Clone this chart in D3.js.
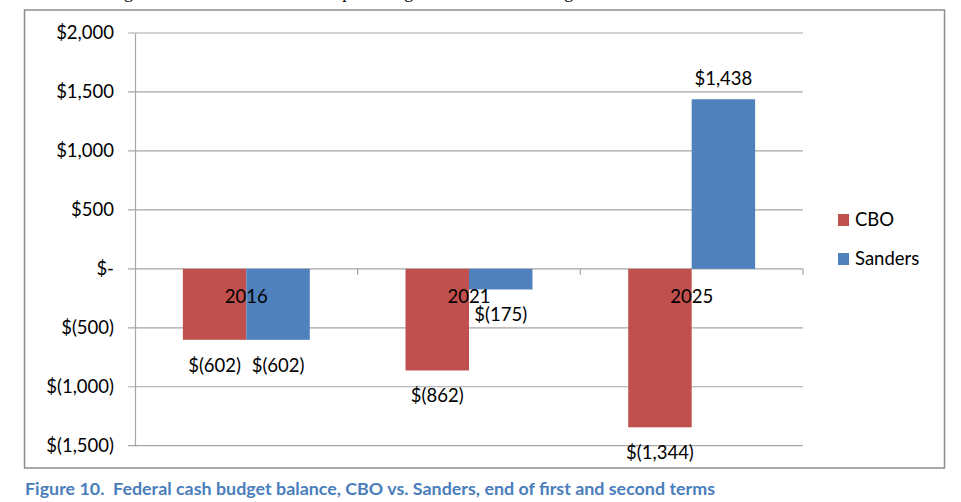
<!DOCTYPE html>
<html>
<head>
<meta charset="utf-8">
<script src="https://cdn.jsdelivr.net/npm/d3@7/dist/d3.min.js"></script>
<style>
  body { margin: 0; background: #fff; }
  text { font-family: Lato, "Open Sans", sans-serif; }
</style>
</head>
<body>
<div id="chart"></div>
<script>
// data
const years = ["2016", "2021", "2025"];
const seriesNames = ["CBO", "Sanders"];
const cboValues = [-602, -862, -1344];
const sandersValues = [-602, -175, 1438];
const yTicks = [-1500, -1000, -500, 0, 500, 1000, 1500, 2000];
const colors = { "CBO": "#c0504d", "Sanders": "#4f81bd" };

const width = 961, height = 502;
const plot = { left: 135, right: 803, top: 33, bottom: 445.7 };

const svg = d3.select("#chart")
  .append("svg")
  .attr("width", width)
  .attr("height", height);

// cut-off line of body text above the figure
svg.append("text")
  .attr("x", 30)
  .attr("y", -2)
  .attr("textLength", 673)
  .style("font-family", "'Liberation Serif', serif")
  .style("font-size", "18px")
  .text("economic growth reduces social spending while increasing tax revenues.");

// outer frame
svg.append("rect")
  .attr("x", 24.5).attr("y", 10)
  .attr("width", 920).attr("height", 458)
  .attr("fill", "none")
  .attr("stroke", "#8c8c8c")
  .attr("stroke-width", 1.5);

const x = d3.scaleBand()
  .domain(years)
  .range([plot.left, plot.right])
  .paddingInner(0.43)
  .paddingOuter(0.215);

const xs = d3.scaleBand()
  .domain(seriesNames)
  .range([0, x.bandwidth()]);

const y = d3.scaleLinear()
  .domain([-1500, 2000])
  .range([plot.bottom, plot.top]);

const fmt = v => {
  if (v === 0) return "$-";
  const s = d3.format(",")(Math.abs(v));
  return v < 0 ? "$(" + s + ")" : "$" + s;
};

// gridlines
svg.append("g")
  .selectAll("line")
  .data(yTicks)
  .join("line")
  .attr("x1", plot.left - 7)
  .attr("x2", plot.right)
  .attr("y1", d => y(d))
  .attr("y2", d => y(d))
  .attr("stroke", "#a6a6a6")
  .attr("stroke-width", 1.2);

// y axis
const yAxis = svg.append("g")
  .attr("transform", `translate(${plot.left},0)`)
  .call(d3.axisLeft(y).tickValues(yTicks).tickFormat(fmt).tickSize(0).tickPadding(21));
yAxis.select(".domain").attr("stroke", "#a6a6a6").attr("stroke-width", 1.2);
yAxis.selectAll("text")
  .style("font-size", "18.5px")
  .style("font-family", "Lato, sans-serif")
  .attr("fill", "#000");

// category ticks on the zero line
const catEdges = years.map((d, i) => plot.left + (i + 1) * (plot.right - plot.left) / years.length);
svg.append("g")
  .selectAll("line")
  .data(catEdges)
  .join("line")
  .attr("x1", d => d).attr("x2", d => d)
  .attr("y1", y(0)).attr("y2", y(0) + 6)
  .attr("stroke", "#a6a6a6")
  .attr("stroke-width", 1.2);

// bars
const rows = years.map((yr, i) => ({ year: yr, values: [
  { name: "CBO", value: cboValues[i] },
  { name: "Sanders", value: sandersValues[i] }
]}));

const groups = svg.append("g")
  .selectAll("g")
  .data(rows)
  .join("g")
  .attr("transform", d => `translate(${x(d.year)},0)`);

groups.selectAll("rect")
  .data(d => d.values)
  .join("rect")
  .attr("x", d => xs(d.name))
  .attr("width", xs.bandwidth())
  .attr("y", d => y(Math.max(0, d.value)))
  .attr("height", d => Math.abs(y(d.value) - y(0)))
  .attr("fill", d => colors[d.name]);

// value labels
groups.selectAll("text.val")
  .data(d => d.values)
  .join("text")
  .attr("class", "val")
  .attr("x", d => xs(d.name) + xs.bandwidth() / 2)
  .attr("y", d => d.value < 0 ? y(d.value) + 32 : y(d.value) - 14)
  .attr("text-anchor", "middle")
  .style("font-size", "18.5px")
  .text(d => fmt(d.value));

// category labels
svg.append("g")
  .selectAll("text")
  .data(years)
  .join("text")
  .attr("x", d => x(d) + x.bandwidth() / 2)
  .attr("y", y(0) + 34)
  .attr("text-anchor", "middle")
  .style("font-size", "18.5px")
  .text(d => d);

// legend
const legend = svg.append("g")
  .selectAll("g")
  .data(seriesNames)
  .join("g")
  .attr("transform", (d, i) => `translate(838,${214 + i * 39})`);
legend.append("rect")
  .attr("width", 11).attr("height", 12)
  .attr("fill", d => colors[d]);
legend.append("text")
  .attr("x", 17)
  .attr("y", 12)
  .style("font-size", "18.5px")
  .text(d => d);

// caption (double space after the figure number)
svg.append("text")
  .attr("x", 25)
  .attr("y", 495)
  .attr("textLength", 690)
  .attr("lengthAdjust", "spacingAndGlyphs")
  .attr("fill", "#4a7ebb")
  .style("font-size", "17.5px")
  .style("font-weight", "bold")
  .style("white-space", "pre")
  .text("Figure 10.  Federal cash budget balance, CBO vs. Sanders, end of first and second terms");
</script>
</body>
</html>
